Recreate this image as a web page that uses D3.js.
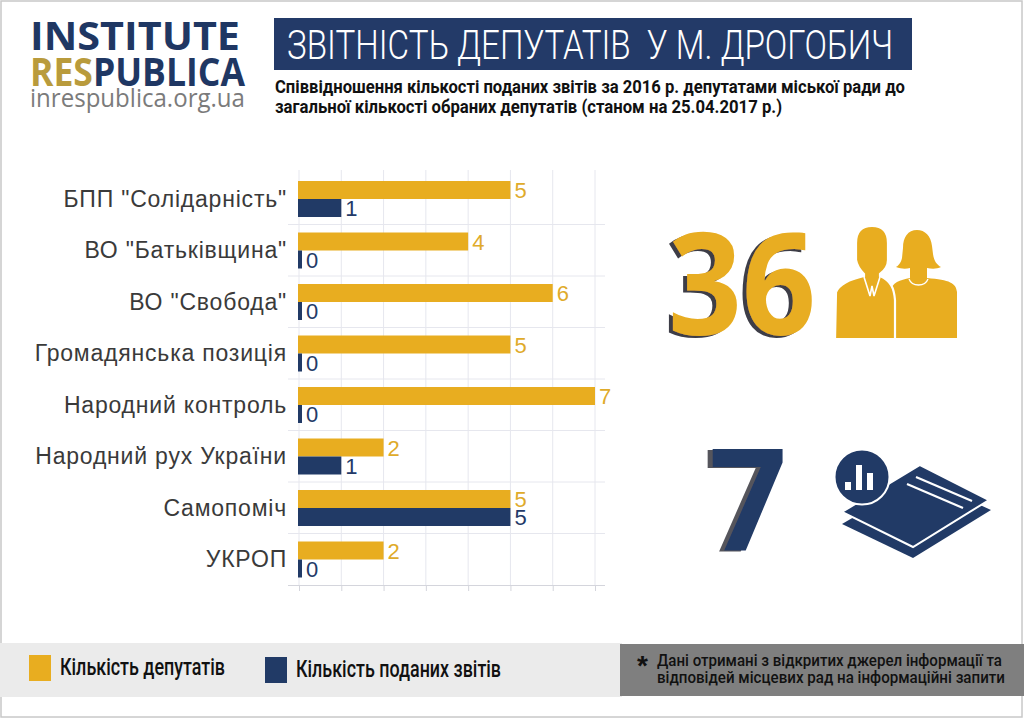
<!DOCTYPE html>
<html>
<head>
<meta charset="utf-8">
<script src="https://cdn.jsdelivr.net/npm/d3@7"></script>
<style>
  body { margin: 0; background: #fff; }
  svg { display: block; }
</style>
</head>
<body>
<div id="chart"></div>
<script>
// page constants
const FRAME_WIDTH = 1024;
const FRAME_HEIGHT = 718;
const GOLD = "#e8ad20";
const NAVY = "#213a66";
const LOGO_NAVY = "#1f3763";

// data
const PARTIES = ['БПП "Солідарність"', 'ВО "Батьківщина"', 'ВО "Свобода"', "Громадянська позиція",
  "Народний контроль", "Народний рух України", "Самопоміч", "УКРОП"];
const DEPUTIES = [5, 4, 6, 5, 7, 2, 5, 2];
const REPORTS = [1, 0, 0, 0, 0, 1, 5, 0];
const X_TICKS = [0, 1, 2, 3, 4, 5, 6, 7];
const SERIES = ["Кількість депутатів", "Кількість поданих звітів"];

const TITLE = "ЗВІТНІСТЬ ДЕПУТАТІВ  У М. ДРОГОБИЧ";
const SUBTITLE = ["Співвідношення кількості поданих звітів за 2016 р. депутатами міської ради до",
  "загальної кількості обраних депутатів (станом на 25.04.2017 р.)"];
const NOTE = ["Дані отримані з відкритих джерел інформації та",
  "відповідей місцевих рад на інформаційні запити"];

const rows = PARTIES.map((p, i) => ({party: p, deputies: DEPUTIES[i], reports: REPORTS[i]}));

const SVG = d3.select("#chart")
  .append("svg")
  .attr("width", FRAME_WIDTH)
  .attr("height", FRAME_HEIGHT)
  .style("font-family", "'Liberation Sans', Arial, sans-serif");

// drop shadows for the big numbers
const defs = SVG.append("defs");
function addShadow(id, color, dx, dy) {
  const f = defs.append("filter").attr("id", id)
    .attr("x", "-20%").attr("y", "-20%").attr("width", "140%").attr("height", "140%");
  f.append("feOffset").attr("in", "SourceAlpha").attr("dx", dx).attr("dy", dy).attr("result", "off");
  f.append("feFlood").attr("flood-color", color).attr("result", "col");
  f.append("feComposite").attr("in", "col").attr("in2", "off").attr("operator", "in").attr("result", "sh");
  const m = f.append("feMerge");
  m.append("feMergeNode").attr("in", "sh");
  m.append("feMergeNode").attr("in", "SourceGraphic");
}
addShadow("shadowGold", "#3d3d46", -4, 2);
addShadow("shadowNavy", "#55555c", -5, 1);

// page border
SVG.append("rect")
  .attr("x", 1).attr("y", 1)
  .attr("width", FRAME_WIDTH - 3).attr("height", FRAME_HEIGHT - 2)
  .attr("fill", "#fff").attr("stroke", "#c8c8c8").attr("stroke-width", 1.5);

// ---- logo
const logo = SVG.append("g").style("font-family", "'Open Sans', sans-serif");
logo.append("text").attr("x", 30).attr("y", 50)
  .attr("font-size", 40).attr("font-weight", 700).attr("fill", LOGO_NAVY)
  .attr("textLength", 210).attr("lengthAdjust", "spacingAndGlyphs")
  .text("INSTITUTE");
const rp = logo.append("text").attr("x", 30).attr("y", 86)
  .attr("font-size", 40).attr("font-weight", 700)
  .attr("textLength", 215).attr("lengthAdjust", "spacingAndGlyphs");
rp.append("tspan").attr("fill", "#b99b3c").text("RES");
rp.append("tspan").attr("fill", LOGO_NAVY).text("PUBLICA");
logo.append("text").attr("x", 30).attr("y", 107)
  .attr("font-size", 25).attr("fill", "#7b7b7b")
  .attr("textLength", 215).attr("lengthAdjust", "spacingAndGlyphs")
  .text("inrespublica.org.ua");

// ---- title box
SVG.append("rect")
  .attr("x", 274).attr("y", 18).attr("width", 638).attr("height", 52)
  .attr("fill", "#233a68");
SVG.append("text")
  .attr("x", 287).attr("y", 59)
  .attr("font-family", "Roboto, sans-serif").attr("font-weight", 300)
  .attr("font-size", 40).attr("fill", "#fff")
  .attr("textLength", 606).attr("lengthAdjust", "spacingAndGlyphs")
  .attr("xml:space", "preserve")
  .text(TITLE);

SVG.selectAll(".subtitle")
  .data(SUBTITLE)
  .enter()
  .append("text")
  .attr("class", "subtitle")
  .attr("x", 275)
  .attr("y", (d, i) => 93 + i * 20)
  .attr("font-family", "Roboto, sans-serif").attr("font-weight", 700)
  .attr("font-size", 18).attr("fill", "#111")
  .attr("textLength", (d, i) => i === 0 ? 630 : 507)
  .attr("lengthAdjust", "spacingAndGlyphs")
  .text(d => d);

// ---- bar chart
const X_SCALE = d3.scaleLinear()
  .domain([0, 7])
  .range([299, 595]);

const Y_SCALE = d3.scaleBand()
  .domain(PARTIES)
  .range([173, 585]);

const SUB_SCALE = d3.scaleBand()
  .domain(["deputies", "reports"])
  .range([8, 44]);

// vertical grid
SVG.append("g")
  .selectAll("line")
  .data(X_TICKS)
  .enter()
  .append("line")
  .attr("x1", d => X_SCALE(d)).attr("x2", d => X_SCALE(d))
  .attr("y1", 170).attr("y2", 585)
  .attr("stroke", "#e6e7ee").attr("stroke-width", 1);

// horizontal grid at band bottoms
SVG.append("g")
  .selectAll("line")
  .data(PARTIES.slice(0, -1))
  .enter()
  .append("line")
  .attr("x1", 288).attr("x2", 605)
  .attr("y1", d => Y_SCALE(d) + Y_SCALE.bandwidth())
  .attr("y2", d => Y_SCALE(d) + Y_SCALE.bandwidth())
  .attr("stroke", "#e6e7ee").attr("stroke-width", 1);

// bottom axis, ticks without labels
const xAxis = SVG.append("g")
  .attr("transform", "translate(0," + 585 + ")")
  .call(d3.axisBottom(X_SCALE).tickValues(X_TICKS).tickFormat("").tickSize(6).tickSizeOuter(0));
xAxis.select(".domain").attr("stroke", "#d4d5dc").attr("d", "M288,0.5H605");
xAxis.selectAll(".tick line").attr("stroke", "#d4d5dc");

// bars
const groups = SVG.selectAll(".party")
  .data(rows)
  .enter()
  .append("g")
  .attr("class", "party")
  .attr("transform", d => "translate(0," + Y_SCALE(d.party) + ")");

const barKeys = [
  {key: "deputies", color: GOLD, label: "#dfab2a"},
  {key: "reports", color: NAVY, label: "#233a68"}
];

barKeys.forEach((b) => {
  groups.append("rect")
    .attr("x", X_SCALE(0) - 1)
    .attr("y", SUB_SCALE(b.key))
    .attr("width", d => Math.max(X_SCALE(d[b.key]) - X_SCALE(0) + 1, 4))
    .attr("height", SUB_SCALE.bandwidth())
    .attr("fill", b.color);

  groups.append("text")
    .attr("x", d => Math.max(X_SCALE(d[b.key]), X_SCALE(0) + 3) + 4)
    .attr("y", SUB_SCALE(b.key) + SUB_SCALE.bandwidth() / 2 + 8)
    .attr("font-size", 22)
    .attr("fill", b.label)
    .text(d => d[b.key]);
});

// category labels
groups.append("text")
  .attr("x", 287)
  .attr("y", Y_SCALE.bandwidth() / 2 + 8)
  .attr("text-anchor", "end")
  .attr("font-size", 23)
  .attr("letter-spacing", 0.8)
  .attr("fill", "#3a3a3a")
  .text(d => d.party);

// ---- totals
const totalDeputies = d3.sum(DEPUTIES);
const totalReports = d3.sum(REPORTS);

const big = SVG.append("g").style("font-family", "'Open Sans', sans-serif").attr("font-weight", 700);
big.append("text").attr("x", 668).attr("y", 335)
  .attr("font-size", 142).attr("fill", GOLD)
  .attr("filter", "url(#shadowGold)")
  .attr("textLength", 148).attr("lengthAdjust", "spacingAndGlyphs")
  .text(totalDeputies);

big.append("text").attr("x", 709).attr("y", 550)
  .attr("font-size", 142).attr("fill", NAVY)
  .attr("filter", "url(#shadowNavy)")
  .attr("textLength", 78).attr("lengthAdjust", "spacingAndGlyphs")
  .text(totalReports);

// people icon
const people = SVG.append("g");
// woman (behind)
people.append("path")
  .attr("fill", GOLD)
  .attr("d", "M917,230 C908,230 903,237 903,248 L902,258 C901,263 898,266 896,267 C901,269 906,269 910,268 " +
    "L910,278 C900,280 892,282 890,292 L890,338 L957,338 L957,292 C956,283 950,280 927,278 L927,268 " +
    "C932,269 937,269 941,267 C937,265 934,261 933,254 L932,246 C931,236 925,230 917,230 Z");
// man (front), white outline separates from woman
people.append("path")
  .attr("fill", GOLD).attr("stroke", "#fff").attr("stroke-width", 2.2)
  .attr("d", "M872,226 C861,226 856,232 856,243 L856,260 C857,266 861,271 864,274 L864,276 " +
    "C851,279 840,283 836,292 L835,339 L895,339 L895,300 C894,288 891,281 880,276 L880,274 " +
    "C884,271 888,266 888,260 L888,243 C888,232 883,226 872,226 Z");
// man collar / tie
people.append("path")
  .attr("fill", "none").attr("stroke", "#fff").attr("stroke-width", 1.6)
  .attr("d", "M864,277 L870,296 L872,286 L874,296 L880,277");
// woman necklace
people.append("path")
  .attr("fill", "none").attr("stroke", "#fff").attr("stroke-width", 1.3)
  .attr("d", "M909,279 C912,287 925,287 928,279");

// documents icon
const docs = SVG.append("g");
docs.append("path").attr("fill", NAVY)
  .attr("d", "M842,524 L921,478 L991,510 L913,558 Z");
docs.append("path").attr("fill", NAVY).attr("stroke", "#fff").attr("stroke-width", 2)
  .attr("d", "M842,512 L920,465 L989,500 L913,547 Z");
docs.append("line").attr("x1", 916).attr("y1", 477).attr("x2", 972).attr("y2", 501)
  .attr("stroke", "#fff").attr("stroke-width", 2.2);
docs.append("line").attr("x1", 907).attr("y1", 484).attr("x2", 963).attr("y2", 508)
  .attr("stroke", "#fff").attr("stroke-width", 2.2);
docs.append("circle").attr("cx", 862).attr("cy", 477).attr("r", 27.5)
  .attr("fill", NAVY).attr("stroke", "#fff").attr("stroke-width", 2);
const iconBars = [{x: 845, h: 8}, {x: 856, h: 25}, {x: 867, h: 17}];
docs.selectAll(".ib").data(iconBars).enter().append("rect")
  .attr("x", d => d.x).attr("y", d => 490 - d.h)
  .attr("width", 6).attr("height", d => d.h).attr("fill", "#fff");

// ---- legend band
SVG.append("rect").attr("x", 0).attr("y", 643).attr("width", 622).attr("height", 54).attr("fill", "#ebebeb");
SVG.append("rect").attr("x", 620).attr("y", 644).attr("width", 404).attr("height", 52).attr("fill", "#7f7f7f");

const legend = SVG.selectAll(".legend")
  .data(SERIES)
  .enter()
  .append("g")
  .attr("class", "legend")
  .attr("transform", (d, i) => i === 0 ? "translate(29,655)" : "translate(265,657)");
legend.append("rect").attr("width", 22).attr("height", 26)
  .attr("fill", (d, i) => i === 0 ? GOLD : NAVY);
legend.append("text")
  .attr("x", 31).attr("y", 20)
  .attr("font-family", "Roboto, sans-serif").attr("font-weight", 500)
  .attr("font-size", 24).attr("fill", "#111")
  .attr("textLength", (d, i) => i === 0 ? 165 : 205)
  .attr("lengthAdjust", "spacingAndGlyphs")
  .text(d => d);

SVG.append("text").attr("x", 637).attr("y", 675)
  .attr("font-size", 28).attr("font-weight", 700).attr("fill", "#111").text("*");
SVG.selectAll(".note")
  .data(NOTE)
  .enter()
  .append("text")
  .attr("class", "note")
  .attr("x", 657)
  .attr("y", (d, i) => 666 + i * 17)
  .attr("font-family", "Roboto, sans-serif").attr("font-weight", 500)
  .attr("font-size", 16.5).attr("fill", "#111")
  .attr("textLength", (d, i) => i === 0 ? 345 : 348)
  .attr("lengthAdjust", "spacingAndGlyphs")
  .text(d => d);
</script>
</body>
</html>
